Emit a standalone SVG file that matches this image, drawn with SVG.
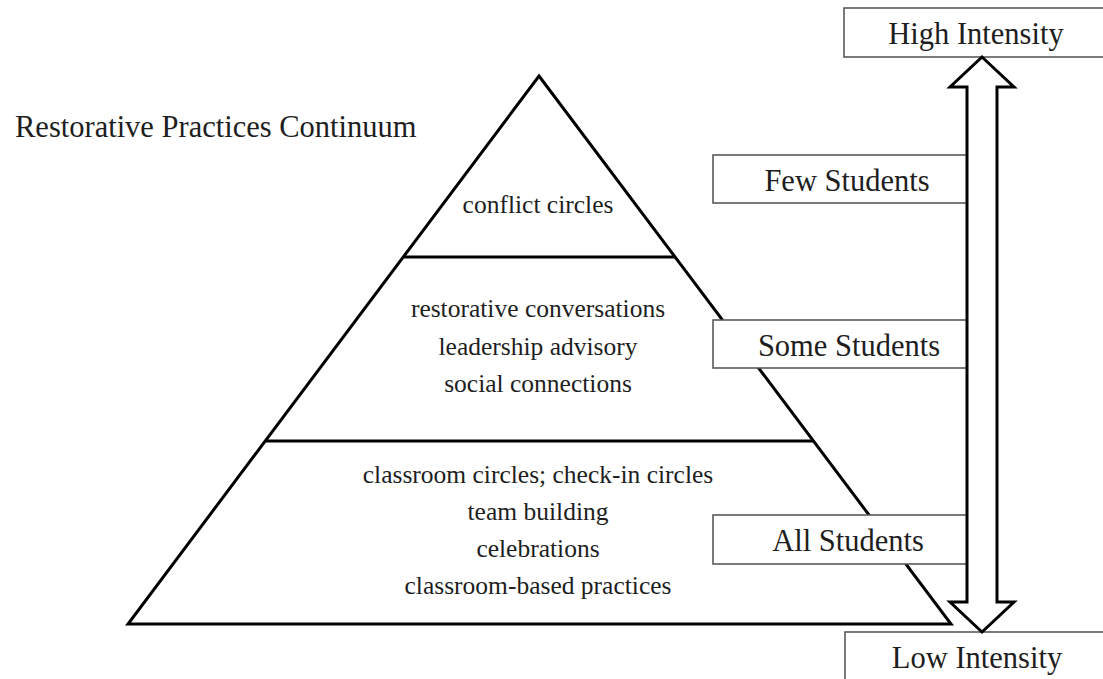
<svg xmlns="http://www.w3.org/2000/svg" width="1103" height="679" viewBox="0 0 1103 679" font-family="'Liberation Serif', 'Times New Roman', Times, 'DejaVu Serif', serif">
  <style>
    text { font-family: "Liberation Serif", "Times New Roman", Times, "DejaVu Serif", serif; fill: #1e1e1e; }
    .layer { font-size: 25.5px; text-anchor: middle; }
    .lbl { font-size: 30.5px; text-anchor: middle; }
    .title { font-size: 30.5px; }
    .box { fill: #ffffff; stroke: #5a5a5a; stroke-width: 1.6; }
    .pyr { fill: none; stroke: #000000; stroke-width: 3; stroke-linejoin: miter; }
    .arrow { fill: #ffffff; stroke: #000000; stroke-width: 3; stroke-linejoin: miter; }
  </style>
  <rect x="0" y="0" width="1103" height="679" fill="#ffffff"/>

  <text id="title" class="title" x="15" y="137">Restorative Practices Continuum</text>

  <g id="pyramid">
    <polygon class="pyr" points="539,76 951,624 128,624"/>
    <line class="pyr" x1="403" y1="257" x2="675" y2="257"/>
    <line class="pyr" x1="265" y1="441" x2="813" y2="441"/>
  </g>

  <g id="tier-top">
    <text class="layer" x="538" y="213">conflict circles</text>
  </g>
  <g id="tier-middle">
    <text class="layer" x="538" y="317">restorative conversations</text>
    <text class="layer" x="538" y="355">leadership advisory</text>
    <text class="layer" x="538" y="392">social connections</text>
  </g>
  <g id="tier-bottom">
    <text class="layer" x="538" y="483">classroom circles; check-in circles</text>
    <text class="layer" x="538" y="520">team building</text>
    <text class="layer" x="538" y="557">celebrations</text>
    <text class="layer" x="538" y="594">classroom-based practices</text>
  </g>

  <g id="high-intensity">
    <rect class="box" x="844" y="8" width="262" height="49"/>
    <text class="lbl" x="976" y="44">High Intensity</text>
  </g>
  <g id="few-students">
    <rect class="box" x="713" y="155" width="256" height="48"/>
    <text class="lbl" x="847" y="191">Few Students</text>
  </g>
  <g id="some-students">
    <rect class="box" x="713" y="320" width="256" height="48"/>
    <text class="lbl" x="849" y="356">Some Students</text>
  </g>
  <g id="all-students">
    <rect class="box" x="713" y="515" width="256" height="49"/>
    <text class="lbl" x="848" y="551">All Students</text>
  </g>
  <g id="low-intensity">
    <rect class="box" x="845" y="632" width="262" height="60"/>
    <text class="lbl" x="977" y="668">Low Intensity</text>
  </g>

  <g id="connectors">
    <polygon class="arrow" points="982,57 1014,87 997,87 997,602 1014,602 982,632 950,602 967,602 967,87 950,87"/>
  </g>
</svg>
